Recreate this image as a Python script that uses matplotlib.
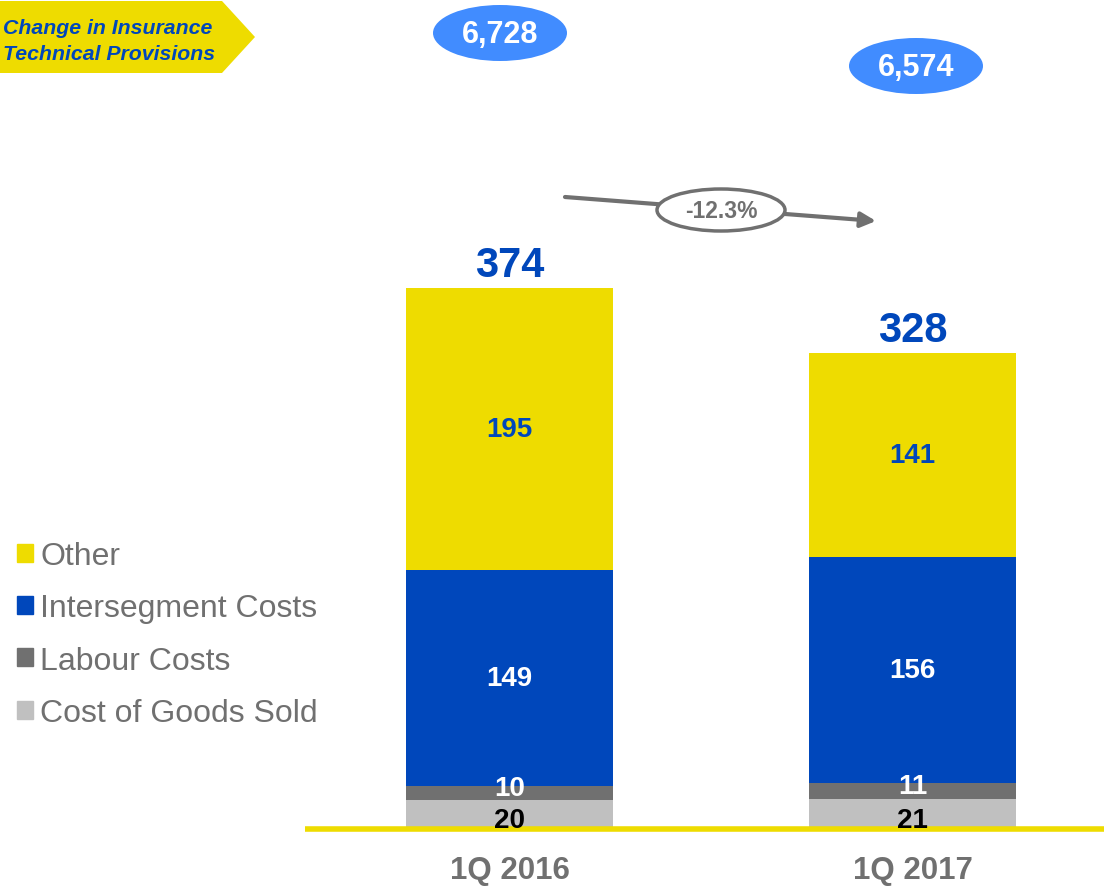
import matplotlib.pyplot as plt
from matplotlib.patches import Patch, Ellipse, Polygon

plt.rcParams['font.family'] = ['Liberation Sans', 'DejaVu Sans']

categories = ["1Q 2016", "1Q 2017"]
cogs = [20, 21]
labour = [10, 11]
interseg = [149, 156]
other = [195, 141]
totals = [374, 328]
provisions = ["6,728", "6,574"]
change_label = "-12.3%"

YELLOW = "#EEDC00"
BLUE = "#0047BB"
DGREY = "#707070"
LGREY = "#C0C0C0"
LBLUE = "#418CFF"

W, H = 1104, 887
fig = plt.figure(figsize=(W / 100, H / 100), dpi=100)

# bar axes: categories at x=0,1 ; value 0 sits at y=830 px from top
px_per_unit = 1.4465
x0_px, dx_px = 509.5, 403.0
ax = fig.add_axes([0, 0, 1, 1])
ax.set_xlim(-x0_px / dx_px, (W - x0_px) / dx_px)
ax.set_ylim(-(H - 830) / px_per_unit, 830 / px_per_unit)
ax.axis("off")

xs = range(len(categories))
bw = 207 / dx_px
# (name, values, bar colour, label colour, label nudge)
series = [("Cost of Goods Sold", cogs, LGREY, "black", -4),
          ("Labour Costs", labour, DGREY, "white", 3),
          ("Intersegment Costs", interseg, BLUE, "white", 0),
          ("Other", other, YELLOW, BLUE, 0)]
bottom = [0, 0]
for name, vals, col, tcol, nudge in series:
    ax.bar(xs, vals, bw, bottom=bottom, color=col, edgecolor="none", zorder=2)
    for i, v in enumerate(vals):
        ax.text(i, bottom[i] + v / 2 + nudge, str(v), ha="center", va="center",
                color=tcol, fontsize=20, fontweight="bold", zorder=4)
    bottom = [b + v for b, v in zip(bottom, vals)]

for i, t in enumerate(totals):
    ax.text(i, bottom[i] + 2, str(t), ha="center", va="bottom", color=BLUE,
            fontsize=30, fontweight="bold")
    ax.text(i, -28.5, categories[i], ha="center", va="center", color=DGREY,
            fontsize=22.5, fontweight="bold")

# yellow base line
ax.plot([(305 - x0_px) / dx_px, (W - x0_px) / dx_px], [0, 0], color=YELLOW,
        lw=4, solid_capstyle="butt", zorder=3)

handles = [Patch(color=s[2], label=s[0]) for s in reversed(series)]
fig.legend(handles=handles, loc="upper left", bbox_to_anchor=(17 / W, 1 - 542 / H),
           frameon=False, fontsize=23, labelcolor=DGREY, handlelength=0.5,
           handleheight=0.5, handletextpad=0.22, labelspacing=0.7,
           borderpad=0, borderaxespad=0)

# overlay in pixel coordinates for the callouts
ov = fig.add_axes([0, 0, 1, 1], facecolor="none")
ov.set_xlim(0, W)
ov.set_ylim(H, 0)
ov.axis("off")

ov.add_patch(Polygon([(0, 2), (222, 2), (255, 38), (222, 74), (0, 74)],
                     closed=True, color=YELLOW, lw=0))
ov.text(3, 28, "Change in Insurance", ha="left", va="center", color=BLUE,
        fontsize=15.3, fontweight="bold", style="italic")
ov.text(3, 54, "Technical Provisions", ha="left", va="center", color=BLUE,
        fontsize=15.3, fontweight="bold", style="italic")

for (cx, cy), txt in zip([(500, 34), (916, 67)], provisions):
    ov.add_patch(Ellipse((cx, cy), 134, 56, color=LBLUE, lw=0))
    ov.text(cx, cy + 1, txt, ha="center", va="center", color="white",
            fontsize=22, fontweight="bold")

ov.annotate("", xy=(876, 222), xytext=(565, 198),
            arrowprops=dict(arrowstyle="-|>,head_length=0.9,head_width=0.45",
                            color=DGREY, lw=3, shrinkA=0, shrinkB=0))
ov.add_patch(Ellipse((721, 211), 128, 42, facecolor="white", edgecolor=DGREY,
                     lw=2.5, zorder=5))
ov.text(721, 212, change_label, ha="center", va="center", color=DGREY,
        fontsize=16.5, fontweight="bold", zorder=6)

fig.savefig("out.png", dpi=100)
